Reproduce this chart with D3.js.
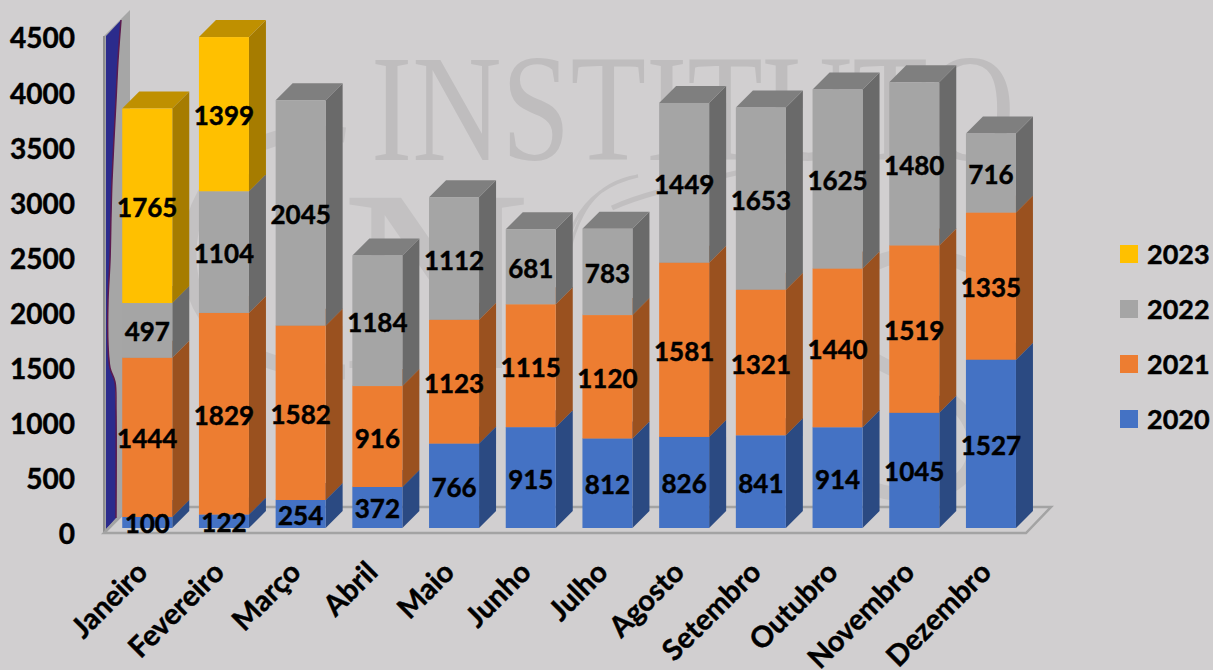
<!DOCTYPE html>
<html>
<head>
<meta charset="utf-8">
<script src="https://cdn.jsdelivr.net/npm/d3@7"></script>
<style>
  html, body { margin: 0; padding: 0; background: #d1cfd0; }
  svg { display: block; }
  text { font-family: Lato, "Open Sans", sans-serif; font-weight: 700; fill: #000; }
  .heavy text { stroke: #000; stroke-width: 0.45px; }
</style>
</head>
<body>
<svg id="chart" width="1213" height="670"></svg>
<script>
const months = ["Janeiro", "Fevereiro", "Março", "Abril", "Maio", "Junho", "Julho", "Agosto", "Setembro", "Outubro", "Novembro", "Dezembro"];
const years = ["2020", "2021", "2022", "2023"];
const values2020 = [100, 122, 254, 372, 766, 915, 812, 826, 841, 914, 1045, 1527];
const values2021 = [1444, 1829, 1582, 916, 1123, 1115, 1120, 1581, 1321, 1440, 1519, 1335];
const values2022 = [497, 1104, 2045, 1184, 1112, 681, 783, 1449, 1653, 1625, 1480, 716];
const values2023 = [1765, 1399, null, null, null, null, null, null, null, null, null, null];
const yTicks = [0, 500, 1000, 1500, 2000, 2500, 3000, 3500, 4000, 4500];

// front, side and top colors of the 3d boxes
const front = { "2020": "#4472c4", "2021": "#ed7d31", "2022": "#a5a5a5", "2023": "#ffc000" };
const side = { "2020": "#2b4a82", "2021": "#9a511f", "2022": "#6a6a6a", "2023": "#a67c00" };
const top3d = { "2020": "#365c9e", "2021": "#bd6427", "2022": "#7f7f7f", "2023": "#bf9000" };

const svg = d3.select("#chart");
const depth = 17;

const rows = months.map((m, i) => ({
  month: m,
  "2020": values2020[i],
  "2021": values2021[i],
  "2022": values2022[i],
  "2023": values2023[i]
}));

const x = d3.scaleBand()
  .domain(months)
  .range([108.9, 1029.3])
  .paddingInner(0.348)
  .paddingOuter(0.174);

const y = d3.scaleLinear().domain([0, 4500]).range([528, 32]);

const pts = arr => arr.map(p => p.join(",")).join(" ");

// watermark behind the plot
const mark = svg.append("g").attr("fill", "none").attr("stroke", "none");
mark.append("text")
  .attr("x", 371).attr("y", 160)
  .attr("textLength", 644).attr("lengthAdjust", "spacingAndGlyphs")
  .style("font-family", "'Liberation Serif', serif")
  .style("font-weight", 400)
  .style("font-size", "153px")
  .style("fill", "#bfbdbe")
  .text("INSTITUTO");
mark.append("text")
  .attr("x", 342).attr("y", 368)
  .style("font-family", "'Liberation Serif', serif")
  .style("font-weight", 400)
  .style("font-size", "260px")
  .style("fill", "#c3c1c2")
  .text("N");
mark.append("path")
  .attr("d", "M638,176 C600,182 570,205 562,300 C560,240 575,190 638,176 Z")
  .attr("stroke", "#c1bfc0").attr("stroke-width", 3);
mark.append("path")
  .attr("d", "M612,208 C650,190 720,178 808,156")
  .attr("stroke", "#c1bfc0").attr("stroke-width", 5);
mark.append("path")
  .attr("d", "M345,135 C240,120 189,190 189,255 C189,330 250,372 345,372")
  .attr("stroke", "#c3c1c2").attr("stroke-width", 15);
mark.append("path")
  .attr("d", "M1000,290 C960,240 850,240 840,310 C835,380 980,370 975,450 C970,510 860,510 820,450")
  .attr("stroke", "#c4c2c3").attr("stroke-width", 14);

// walls and floor
const wallX0 = 104, wallX1 = 130, wallTop = 36, wallBottom = 533, wallD = 26;
svg.append("polygon")
  .attr("points", pts([[wallX0, wallBottom], [wallX0, wallTop], [wallX1, wallTop - wallD], [wallX1, wallBottom - wallD]]))
  .attr("fill", "#a6a6a6");
const waveLine = [[121, 20], [118, 60], [116, 100], [112, 180], [111, 215], [110, 260], [108, 300], [108, 345], [110, 368], [115, 382], [116, 410], [116, 518]];
svg.append("polygon")
  .attr("points", pts([[106, 36], ...waveLine, [106, 529]]))
  .attr("fill", "#2b2b8c");
svg.append("path")
  .attr("d", d3.line().curve(d3.curveCatmullRom)(waveLine))
  .attr("fill", "none").attr("stroke", "#5c1a4e").attr("stroke-width", 1.5);
svg.append("line")
  .attr("x1", wallX0).attr("x2", wallX0).attr("y1", wallTop).attr("y2", wallBottom)
  .attr("stroke", "#8f8f8f").attr("stroke-width", 2);
svg.append("polygon")
  .attr("points", pts([[wallX0, wallBottom], [wallX1, wallBottom - wallD], [1051, wallBottom - wallD], [1026, wallBottom]]))
  .attr("fill", "#d1cfd0").attr("stroke", "#a3a3a3").attr("stroke-width", 2.5);

// stacked boxes, bottom segment first
const stacked = d3.stack().keys(years)(rows);
const bars = svg.append("g");
stacked.forEach(layer => {
  const key = layer.key;
  const g = bars.append("g").attr("class", "year-" + key);
  layer.forEach(seg => {
    if (seg[1] === seg[0]) return;
    const month = seg.data.month;
    const x0 = x(month), x1 = x0 + x.bandwidth();
    const y0 = y(seg[0]), y1 = y(seg[1]);
    g.append("polygon")
      .attr("points", pts([[x1, y0], [x1, y1], [x1 + depth, y1 - depth], [x1 + depth, y0 - depth]]))
      .attr("fill", side[key]);
    g.append("polygon")
      .attr("points", pts([[x0, y1], [x0 + depth, y1 - depth], [x1 + depth, y1 - depth], [x1, y1]]))
      .attr("fill", top3d[key]);
    g.append("rect")
      .attr("x", x0).attr("y", y1)
      .attr("width", x.bandwidth()).attr("height", y0 - y1)
      .attr("fill", front[key]);
  });
});

// data labels go over all the boxes
const labels = svg.append("g").attr("class", "heavy").attr("text-anchor", "middle").style("font-size", "26px");
stacked.forEach(layer => {
  layer.forEach(seg => {
    if (seg[1] === seg[0]) return;
    labels.append("text")
      .attr("x", x(seg.data.month) + x.bandwidth() / 2)
      .attr("y", (y(seg[0]) + y(seg[1])) / 2 + 11)
      .text(seg[1] - seg[0]);
  });
});

// y axis
const yAxis = svg.append("g")
  .attr("class", "heavy")
  .attr("transform", "translate(75,7)")
  .call(d3.axisLeft(y).tickValues(yTicks).tickSize(0).tickPadding(0).tickFormat(d3.format("d")));
yAxis.select(".domain").remove();
yAxis.selectAll("text").style("font-size", "28px").style("font-family", "Lato, sans-serif");

// x labels
svg.append("g").attr("class", "heavy").selectAll("text")
  .data(months)
  .join("text")
  .attr("text-anchor", "end")
  .attr("transform", d => `translate(${x(d) + x.bandwidth() / 2 + 2},574) rotate(-45)`)
  .style("font-size", "29px")
  .text(d => d);

// legend
const legendY = d3.scalePoint().domain(years.slice().reverse()).range([254, 419]);
const legend = svg.append("g").attr("class", "heavy").selectAll("g")
  .data(years)
  .join("g")
  .attr("transform", d => `translate(1120,${legendY(d)})`);
legend.append("rect")
  .attr("x", 0).attr("y", -9)
  .attr("width", 18).attr("height", 18)
  .attr("fill", d => front[d]);
legend.append("text")
  .attr("x", 27).attr("y", 10)
  .style("font-size", "27px")
  .text(d => d);
</script>
</body>
</html>
